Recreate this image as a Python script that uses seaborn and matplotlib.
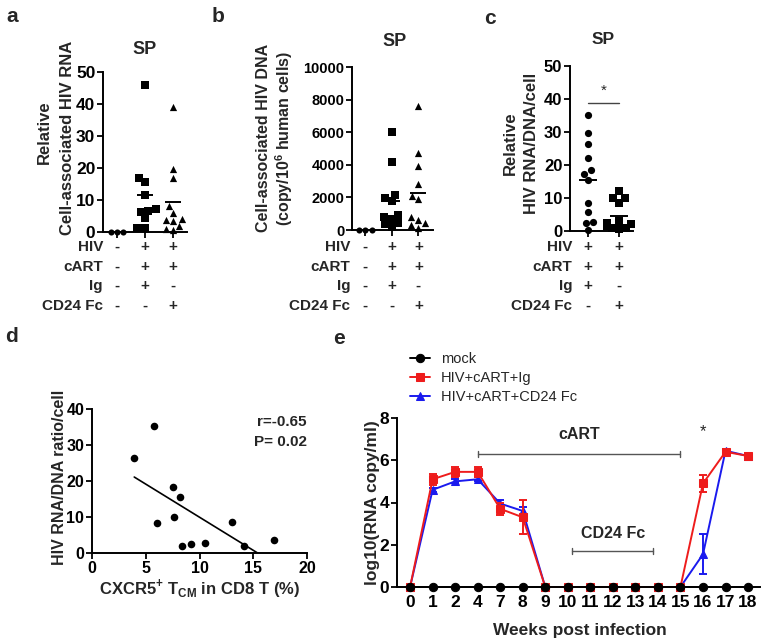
import numpy as np
import pandas as pd
import seaborn as sns
import matplotlib.pyplot as plt
import matplotlib.transforms as mtransforms
import warnings

warnings.filterwarnings('ignore')

# ---- datos panel a (RNA relativo, SP) ----
groups_abc = ['mock', 'Ig', 'CD24 Fc']
a_mock = [0, 0, 0]
a_ig = [45.8, 16.9, 15.5, 11.5, 7.2, 6.6, 6.2, 4.3, 1.2, 1.4]
a_cd24 = [39.2, 19.8, 17.0, 8.0, 6.0, 4.0, 3.8, 3.4, 2.0, 1.0, 0.5]

# ---- datos panel b (DNA, copias / 10^6 celulas) ----
b_mock = [0, 0, 0]
b_ig = [6000, 4200, 2150, 1950, 1750, 900, 800, 650, 450, 350, 200]
b_cd24 = [7600, 4700, 3900, 2800, 2100, 1900, 800, 600, 400, 300, 150]

# ---- datos panel c (RNA/DNA por celula) ----
groups_c = ['Ig', 'CD24 Fc']
c_ig = [35.2, 29.6, 26.4, 22.0, 18.4, 17.4, 15.5, 8.4, 5.9, 2.8, 2.4, 0.3]
c_cd24 = [12.0, 10.0, 10.0, 8.6, 3.0, 2.5, 2.0, 2.0, 1.5, 1.0, 1.0, 0.5]

# tabla de tratamientos bajo los ejes
row_names = ['HIV', 'cART', 'Ig', 'CD24 Fc']
signs_ab = [['-', '+', '+'], ['-', '+', '+'], ['-', '+', '-'], ['-', '-', '+']]
signs_c = [['+', '+'], ['+', '+'], ['+', '-'], ['-', '+']]

# ---- datos panel d (correlacion) ----
d_x = [3.93, 5.75, 6.03, 7.5, 7.6, 8.2, 8.4, 9.2, 10.5, 13.05, 14.15, 16.9]
d_y = [26.5, 35.3, 8.4, 18.4, 10.0, 15.6, 1.95, 2.5, 2.9, 8.5, 1.9, 3.5]

# ---- datos panel e (carga viral) ----
weeks = [0, 1, 2, 4, 7, 8, 9, 10, 11, 12, 13, 14, 15, 16, 17, 18]
mock_e = [0, 0, 0, 0, 0, 0, 0, 0, 0, 0, 0, 0, 0, 0, 0, 0]
ig_e = [0, 5.1, 5.45, 5.45, 3.7, 3.3, 0, 0, 0, 0, 0, 0, 0, 4.9, 6.4, 6.2]
ig_err = [0, 0.25, 0.25, 0.25, 0.3, 0.8, 0, 0, 0, 0, 0, 0, 0, 0.4, 0.12, 0.12]
cd24_e = [0, 4.6, 5.0, 5.1, 3.95, 3.6, 0, 0, 0, 0, 0, 0, 0, 1.55, 6.45, 6.2]
cd24_err = [0, 0.1, 0.1, 0.1, 0.15, 0.2, 0, 0, 0, 0, 0, 0, 0, 0.95, 0.1, 0.1]

RED = '#ee1c1c'
BLUE = '#1a1aee'

sns.set_style('ticks')
plt.rcParams['font.family'] = ['Liberation Sans', 'DejaVu Sans']
plt.rcParams['font.weight'] = 'bold'
plt.rcParams['axes.labelweight'] = 'bold'
plt.rcParams['mathtext.fontset'] = 'custom'
plt.rcParams['mathtext.rm'] = 'Liberation Sans:bold'
plt.rcParams['mathtext.bf'] = 'Liberation Sans:bold'

W, H = 763, 644
fig = plt.figure(figsize=(W / 100, H / 100), dpi=100)


def add_ax(l, t, r, b):
    return fig.add_axes([l / W, 1 - b / H, (r - l) / W, (b - t) / H])


def fy(py):
    return 1 - py / H


def style(ax, fs=11):
    sns.despine(ax=ax)
    for s in ['left', 'bottom']:
        ax.spines[s].set_linewidth(1.4)
        ax.spines[s].set_color('k')
    ax.tick_params(width=1.3, length=4, labelsize=fs, colors='k', pad=1.5)
    for lab in ax.get_xticklabels() + ax.get_yticklabels():
        lab.set_fontweight('bold')
    ax.set_xlabel('')
    ax.set_ylabel('')


def dot_panel(ax, order, series, markers, size=5.2):
    for i, (g, vals, m) in enumerate(zip(order, series, markers)):
        df = pd.DataFrame({'grupo': [g] * len(vals), 'valor': vals})
        sz = size - 0.8 if g == 'mock' else size
        sns.swarmplot(data=df, x='grupo', y='valor', order=order, marker=m,
                      color='k', size=sz, ax=ax, linewidth=0)
        if g != 'mock':
            ax.hlines(np.mean(vals), i - 0.3, i + 0.3, color='k', lw=1.4, zorder=4)
    for c in ax.collections:
        c.set_clip_on(False)
    ax.set_xticks(range(len(order)))
    ax.set_xticklabels([])


def treat_table(ax, spine_x, signs, rows_y=(247, 267, 286, 306), fs=11):
    tr = mtransforms.blended_transform_factory(ax.transData, fig.transFigure)
    for name, row, y in zip(row_names, signs, rows_y):
        fig.text(spine_x / W, fy(y), name, ha='right', va='center', fontsize=fs, fontweight='bold')
        for i, s in enumerate(row):
            ax.text(i, fy(y), s, transform=tr, ha='center', va='center', fontsize=fs, fontweight='bold')


# ---------------- panel a ----------------
ax_a = add_ax(103, 72, 187, 232)
dot_panel(ax_a, groups_abc, [a_mock, a_ig, a_cd24], ['o', 's', '^'])
ax_a.set_ylim(0, 50)
ax_a.set_xlim(-0.5, 2.5)
ax_a.set_yticks([0, 10, 20, 30, 40, 50])
style(ax_a, 12.5)
treat_table(ax_a, 103, signs_ab)
fig.text(145 / W, fy(50), 'SP', ha='center', va='center', fontsize=13, fontweight='bold')
fig.text(44 / W, fy(132), 'Relative', rotation=90, ha='center', va='center', fontsize=12, fontweight='bold')
fig.text(67 / W, fy(138), 'Cell-associated HIV RNA', rotation=90, ha='center', va='center', fontsize=12, fontweight='bold')

# ---------------- panel b ----------------
ax_b = add_ax(352, 67, 433, 230)
dot_panel(ax_b, groups_abc, [b_mock, b_ig, b_cd24], ['o', 's', '^'])
ax_b.set_ylim(0, 10000)
ax_b.set_xlim(-0.5, 2.55)
ax_b.set_yticks([0, 2000, 4000, 6000, 8000, 10000])
style(ax_b, 10.5)
treat_table(ax_b, 350, signs_ab)
fig.text(395 / W, fy(42), 'SP', ha='center', va='center', fontsize=13, fontweight='bold')
fig.text(263 / W, fy(138), 'Cell-associated HIV DNA', rotation=90, ha='center', va='center', fontsize=11.5, fontweight='bold')
fig.text(284 / W, fy(138), r'(copy/10$^\mathbf{6}$ human cells)', rotation=90, ha='center', va='center', fontsize=11.5, fontweight='bold')

# ---------------- panel c ----------------
ax_c = add_ax(570, 66, 633, 231)
dot_panel(ax_c, groups_c, [c_ig, c_cd24], ['o', 's'])
ax_c.set_ylim(0, 50)
ax_c.set_xlim(-0.58, 1.45)
ax_c.set_yticks([0, 10, 20, 30, 40, 50])
style(ax_c, 12)
treat_table(ax_c, 572, signs_c)
ax_c.plot([0, 1], [38.8, 38.8], color='#444444', lw=1)
ax_c.text(0.5, 40.5, '*', ha='center', va='bottom', fontsize=11, fontweight='normal')
fig.text(603 / W, fy(40), 'SP', ha='center', va='center', fontsize=12.5, fontweight='bold')
fig.text(510 / W, fy(143), 'Relative', rotation=90, ha='center', va='center', fontsize=12, fontweight='bold')
fig.text(532 / W, fy(143), 'HIV RNA/DNA/cell', rotation=90, ha='center', va='center', fontsize=12, fontweight='bold')

# ---------------- panel d ----------------
ax_d = add_ax(92, 409, 307, 553)
sns.regplot(x=d_x, y=d_y, ci=None, color='k', ax=ax_d,
            scatter_kws=dict(s=30, linewidths=0, alpha=1),
            line_kws=dict(lw=1.2))
ax_d.set_xlim(0, 20)
ax_d.set_ylim(0, 40)
ax_d.set_xticks([0, 5, 10, 15, 20])
ax_d.set_yticks([0, 10, 20, 30, 40])
style(ax_d, 11.5)
ax_d.text(1.0, 0.91, 'r=-0.65', transform=ax_d.transAxes, ha='right', va='center', fontsize=11, fontweight='bold')
ax_d.text(1.0, 0.77, 'P= 0.02', transform=ax_d.transAxes, ha='right', va='center', fontsize=11, fontweight='bold')
fig.text(60 / W, fy(477), 'HIV RNA/DNA ratio/cell', rotation=90, ha='center', va='center', fontsize=11.5, fontweight='bold')
fig.text(200 / W, fy(588), r'CXCR5$^\mathbf{+}$ T$_\mathbf{CM}$ in CD8 T (%)', ha='center', va='center', fontsize=12, fontweight='bold')

# ---------------- panel e ----------------
ax_e = add_ax(397, 418, 760, 587)
pos = np.arange(len(weeks))
ax_e.errorbar(pos, cd24_e, yerr=cd24_err, fmt='none', ecolor=BLUE, elinewidth=1.4, capsize=3, capthick=1.4, zorder=2, clip_on=False)
sns.lineplot(x=pos, y=cd24_e, color=BLUE, marker='^', markersize=6, markeredgecolor=BLUE, lw=1.4,
             label='HIV+cART+CD24 Fc', ax=ax_e, zorder=3, clip_on=False)
ax_e.errorbar(pos, ig_e, yerr=ig_err, fmt='none', ecolor=RED, elinewidth=1.4, capsize=3, capthick=1.4, zorder=4, clip_on=False)
sns.lineplot(x=pos, y=ig_e, color=RED, marker='s', markersize=6, markeredgecolor=RED, lw=1.4,
             label='HIV+cART+Ig', ax=ax_e, zorder=5, clip_on=False)
sns.lineplot(x=pos, y=mock_e, color='k', marker='o', markersize=6, markeredgecolor='k', lw=1.4,
             label='mock', ax=ax_e, zorder=6, clip_on=False)
ax_e.set_xlim(-0.58, 15.53)
ax_e.set_ylim(0, 8)
ax_e.set_xticks(pos)
ax_e.set_xticklabels([str(w) for w in weeks])
ax_e.set_yticks([0, 2, 4, 6, 8])
style(ax_e, 12.5)
ax_e.tick_params(axis='x', length=0, pad=6)

# corchetes cART y CD24 Fc
ax_e.plot([3, 12], [6.3, 6.3], color='#555555', lw=1)
for xx in [3, 12]:
    ax_e.plot([xx, xx], [6.15, 6.45], color='#555555', lw=1)
ax_e.text(7.5, 6.85, 'cART', ha='center', va='bottom', fontsize=11.5, fontweight='bold')
ax_e.plot([7.2, 10.8], [1.7, 1.7], color='#555555', lw=1)
for xx in [7.2, 10.8]:
    ax_e.plot([xx, xx], [1.55, 1.85], color='#555555', lw=1)
ax_e.text(9.0, 2.2, 'CD24 Fc', ha='center', va='bottom', fontsize=11.5, fontweight='bold')
ax_e.text(13, 7.0, '*', ha='center', va='bottom', fontsize=12, fontweight='normal')

hnd, lbl = ax_e.get_legend_handles_labels()
ax_e.legend(hnd[::-1], lbl[::-1], loc='upper left', bbox_to_anchor=(410 / W, fy(352)),
            bbox_transform=fig.transFigure, frameon=False, handlelength=1.4,
            handletextpad=0.7, labelspacing=0.35, borderpad=0, borderaxespad=0,
            prop={'weight': 'normal', 'size': 10.5})
fig.text(580 / W, fy(630), 'Weeks post infection', ha='center', va='center', fontsize=12.5, fontweight='bold')
fig.text(373 / W, fy(503), 'log10(RNA copy/ml)', rotation=90, ha='center', va='center', fontsize=12.5, fontweight='bold')

# letras de los paneles
for letra, x, y in [('a', 12, 17), ('b', 218, 17), ('c', 490, 19), ('d', 12, 336), ('e', 339, 338)]:
    fig.text(x / W, fy(y), letra, ha='center', va='center', fontsize=15, fontweight='bold')

fig.savefig('out.png', dpi=100)
